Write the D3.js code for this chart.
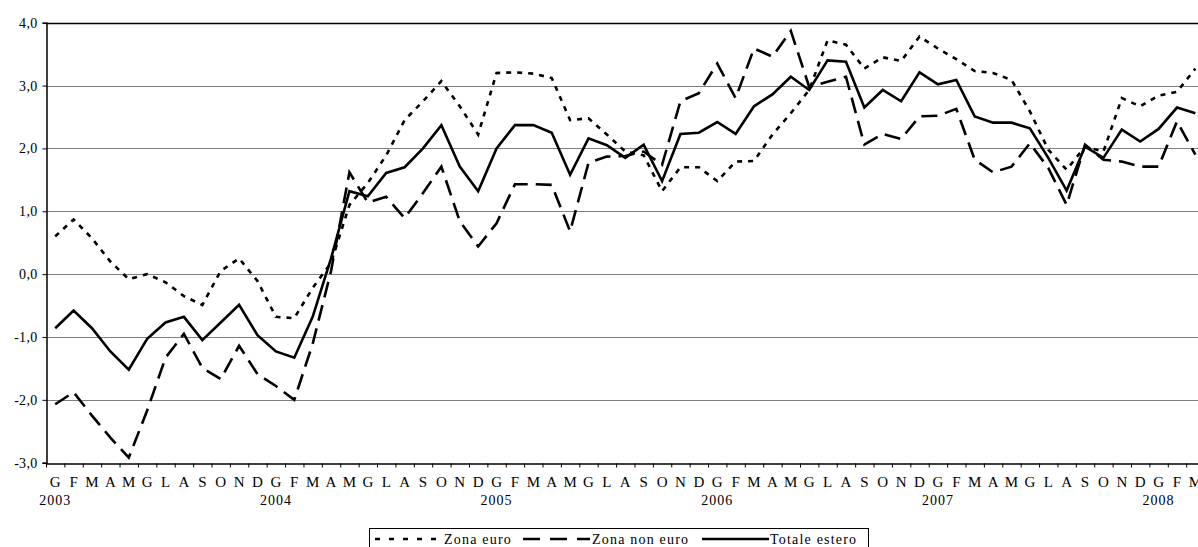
<!DOCTYPE html>
<html>
<head>
<meta charset="utf-8">
<script src="https://cdn.jsdelivr.net/npm/d3@7"></script>
<style>
  body { margin: 0; background: #fff; }
  svg { display: block; font-family: "Liberation Serif", "Times New Roman", serif; }
  .grid line { stroke: #808080; stroke-width: 1.2; }
  .line { fill: none; stroke: #000; stroke-width: 2.6; stroke-linejoin: miter; }
</style>
</head>
<body>
<script>
// months Jan 2003 - Mar 2008
var monthLetters = ["G", "F", "M", "A", "M", "G", "L", "A", "S", "O", "N", "D"];
var years = ["2003", "2004", "2005", "2006", "2007", "2008"];
var yTicks = [-3, -2, -1, 0, 1, 2, 3, 4];

var zonaEuro = [0.60, 0.87, 0.57, 0.20, -0.08, 0.00, -0.13, -0.35, -0.49, 0.05, 0.25, -0.11,
  -0.68, -0.70, -0.22, 0.18, 1.10, 1.45, 1.89, 2.45, 2.75, 3.07, 2.67, 2.22,
  3.20, 3.21, 3.19, 3.12, 2.45, 2.48, 2.22, 1.95, 1.89, 1.32, 1.70, 1.70,
  1.48, 1.79, 1.80, 2.22, 2.56, 2.93, 3.72, 3.65, 3.27, 3.45, 3.39, 3.78,
  3.59, 3.42, 3.23, 3.20, 3.09, 2.59, 1.98, 1.66, 2.03, 1.95, 2.80, 2.67,
  2.84, 2.90, 3.27];
var zonaNonEuro = [-2.07, -1.88, -2.25, -2.60, -2.92, -2.17, -1.33, -0.95, -1.49, -1.67, -1.14, -1.59,
  -1.78, -2.00, -1.11, 0.05, 1.62, 1.14, 1.23, 0.89, 1.29, 1.71, 0.84, 0.44,
  0.81, 1.43, 1.43, 1.42, 0.68, 1.77, 1.87, 1.88, 1.95, 1.74, 2.75, 2.88,
  3.35, 2.80, 3.59, 3.46, 3.87, 2.98, 3.06, 3.14, 2.06, 2.23, 2.15, 2.51,
  2.52, 2.63, 1.82, 1.62, 1.71, 2.08, 1.69, 1.10, 2.06, 1.82, 1.79, 1.71,
  1.71, 2.43, 1.90];
var totaleEstero = [-0.86, -0.58, -0.86, -1.23, -1.52, -1.03, -0.77, -0.68, -1.05, -0.77, -0.49, -0.97,
  -1.23, -1.33, -0.68, 0.25, 1.32, 1.24, 1.61, 1.70, 2.00, 2.37, 1.71, 1.32,
  2.00, 2.37, 2.37, 2.25, 1.58, 2.16, 2.05, 1.85, 2.06, 1.48, 2.23, 2.25,
  2.42, 2.23, 2.67, 2.86, 3.14, 2.93, 3.40, 3.38, 2.65, 2.93, 2.75, 3.21,
  3.02, 3.09, 2.51, 2.41, 2.41, 2.32, 1.85, 1.33, 2.03, 1.85, 2.30, 2.11,
  2.31, 2.65, 2.56];

var svgWidth = 1198;
var svgHeight = 547;
var plotLeft = 46, plotTop = 22.7, plotBottom = 462.7;
var step = 18.39;
var n = totaleEstero.length;

var svg = d3.select("body")
  .append("svg")
  .attr("width", svgWidth)
  .attr("height", svgHeight);

var months = d3.range(n);

var x = d3.scaleBand()
  .domain(months)
  .range([plotLeft, plotLeft + n * step]);

var xEdge = d3.scaleLinear()
  .domain([0, n])
  .range([plotLeft, plotLeft + n * step]);

var y = d3.scaleLinear()
  .domain([-3, 4])
  .range([plotBottom, plotTop]);

// horizontal gridlines
svg.append("g")
  .attr("class", "grid")
  .selectAll("line")
  .data(yTicks.filter(function(d) { return d > -3 && d < 4; }))
  .enter().append("line")
  .attr("x1", plotLeft)
  .attr("x2", svgWidth)
  .attr("y1", function(d) { return Math.round(y(d)) + 0.5; })
  .attr("y2", function(d) { return Math.round(y(d)) + 0.5; });

// top border
svg.append("line")
  .attr("x1", plotLeft).attr("x2", svgWidth)
  .attr("y1", Math.round(y(4)) + 0.5).attr("y2", Math.round(y(4)) + 0.5)
  .attr("stroke", "#000").attr("stroke-width", 1.5);

// y axis
var leftAxis = d3.axisLeft(y)
  .tickValues(yTicks)
  .tickSize(4)
  .tickPadding(5)
  .tickFormat(function(d) { return d3.format(".1f")(d).replace(".", ",").replace("−", "-"); });

var gy = svg.append("g")
  .attr("transform", "translate(" + (plotLeft + 0.5) + ",0)")
  .call(leftAxis);
gy.select(".domain").attr("stroke-width", 1.5);
gy.selectAll("text")
  .attr("font-size", 14)
  .attr("letter-spacing", 0.3)
  .attr("font-family", "Liberation Serif")
  .attr("fill", "#000");

// x axis with ticks at month boundaries
var bottomAxis = d3.axisBottom(xEdge)
  .tickValues(d3.range(n + 1))
  .tickSize(4)
  .tickSizeOuter(0)
  .tickFormat("");

var gx = svg.append("g")
  .attr("transform", "translate(0," + (Math.round(plotBottom) + 0.5) + ")")
  .call(bottomAxis);
gx.select(".domain").attr("stroke-width", 1.5);

// month letters
svg.append("g")
  .selectAll("text")
  .data(months)
  .enter().append("text")
  .attr("x", function(d) { return x(d) + x.bandwidth() / 2; })
  .attr("y", 487)
  .attr("text-anchor", "middle")
  .attr("font-size", 15)
  .text(function(d) { return monthLetters[d % 12]; });

// year labels under January
svg.append("g")
  .selectAll("text")
  .data(years)
  .enter().append("text")
  .attr("x", function(d, i) { return x(i * 12) + x.bandwidth() / 2; })
  .attr("y", 505)
  .attr("text-anchor", "middle")
  .attr("font-size", 14)
  .attr("letter-spacing", 1)
  .text(function(d) { return d; });

// lines
var line = d3.line()
  .x(function(d, i) { return x(i) + x.bandwidth() / 2; })
  .y(function(d) { return y(d); });

var series = [
  { name: "Zona euro", values: zonaEuro, dash: "5,6" },
  { name: "Zona non euro", values: zonaNonEuro, dash: "16,8" },
  { name: "Totale estero", values: totaleEstero, dash: null }
];

svg.selectAll(".line")
  .data(series)
  .enter().append("path")
  .attr("class", "line")
  .attr("d", function(d) { return line(d.values); })
  .attr("stroke-dasharray", function(d) { return d.dash; });

// legend
var legend = svg.append("g");
legend.append("rect")
  .attr("x", 369.5).attr("y", 528.5)
  .attr("width", 499).attr("height", 30)
  .attr("fill", "#fff").attr("stroke", "#000").attr("stroke-width", 1);

var legendItems = [
  { x1: 375, x2: 443, tx: 444, dash: "5,9" },
  { x1: 523, x2: 590, tx: 592, dash: "17,10" },
  { x1: 702, x2: 769, tx: 770, dash: null }
];

legendItems.forEach(function(item, i) {
  legend.append("line")
    .attr("x1", item.x1).attr("x2", item.x2)
    .attr("y1", 539).attr("y2", 539)
    .attr("stroke", "#000").attr("stroke-width", 2.6)
    .attr("stroke-dasharray", item.dash);
  legend.append("text")
    .attr("x", item.tx).attr("y", 543.5)
    .attr("font-size", 14)
    .attr("letter-spacing", 1.2)
    .text(series[i].name);
});
</script>
</body>
</html>
